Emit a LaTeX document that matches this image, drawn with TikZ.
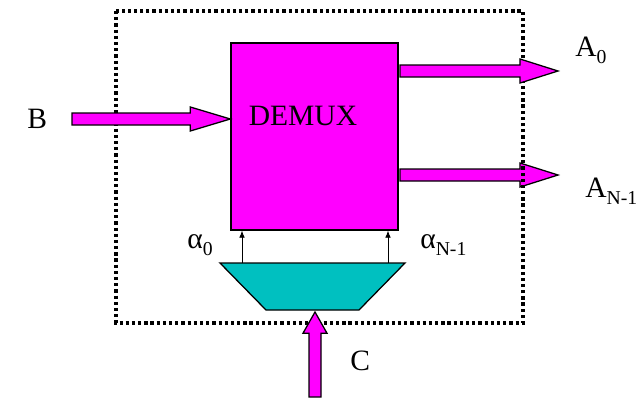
\documentclass[tikz,border=0pt]{standalone}
\usepackage{fontspec}
\setmainfont{Liberation Serif}
\usepackage{tikz}
\usetikzlibrary{arrows.meta, calc, positioning}

\definecolor{demuxpink}{RGB}{255,0,255}
\definecolor{selteal}{RGB}{0,192,192}

% lowered subscript
\newcommand{\lowsub}[1]{\raisebox{-5pt}{\fontsize{14}{16}\selectfont #1}}

% fat block arrow from #1 to #2, head length #3
\newcommand{\fatarrow}[3]{%
  \coordinate (fh) at ($(#2)!#3!(#1)$);
  \filldraw[fat] ($(#1)!.15cm!90:(#2)$) -- ($(fh)!.15cm!90:(#2)$) -- ($(fh)!.3cm!90:(#2)$)
    -- (#2) -- ($(fh)!.3cm!-90:(#2)$) -- ($(fh)!.15cm!-90:(#2)$) -- ($(#1)!.15cm!-90:(#2)$) -- cycle;
}

\begin{document}
\begin{tikzpicture}[x=0.025cm, y=-0.025cm,
  every node/.style={font=\fontsize{21}{25}\selectfont, inner sep=0pt},
  fat/.style={fill=demuxpink, draw=black, line width=0.9pt, line join=miter},
  demuxbox/.style={rectangle, fill=demuxpink, draw=black, line width=0.9pt,
    minimum width=4.175cm, minimum height=4.675cm},
  selbox/.style={fill=selteal, draw=black, line width=0.9pt},
  sig/.style={-{Latex[length=5pt, width=4pt]}, line width=0.6pt},
  dotframe/.style={line width=2.3pt, dash pattern=on 2.3pt off 2.1pt}]
  \useasboundingbox (0,0) rectangle (640,397);

  % outputs
  \coordinate (an1s) at (400,175);
  \coordinate (an1e) at (558,175);
  \fatarrow{an1s}{an1e}{0.95cm}
  % dotted outline
  \draw[dotframe] (116,11) rectangle (523,323);
  \coordinate (a0s) at (400,71);
  \coordinate (a0e) at (558,71);
  \fatarrow{a0s}{a0e}{0.95cm}

  % demultiplexer
  \node[demuxbox] (demux) at (314.5,136.5) {};
  \node (demuxlbl) at (303,116) {DEMUX};

  % input B
  \node[anchor=base west] (b) at (27,128) {B};
  \coordinate (bin) at (72,119);
  \fatarrow{bin}{bin -| demux.west}{1cm}

  % selector
  \draw[selbox] (220,263) -- (405,263) -- (359,310) -- (266,310) -- cycle;
  \coordinate (al0) at (242,263);
  \coordinate (aln) at (388,263);
  \draw[sig] (al0) -- (al0 |- demux.south);
  \draw[sig] (aln) -- (aln |- demux.south);
  \node[anchor=base west] (alpha0) at (187,248) {α\lowsub{0}};
  \node[anchor=base west] (alphan) at (420,248) {α\lowsub{N-1}};

  % control C
  \coordinate (cin) at (315,397);
  \coordinate (cout) at (315,312);
  \fatarrow{cin}{cout}{0.53cm}
  \node[anchor=base west] (c) at (350,370) {C};

  % output labels
  \node[anchor=base west] (a0) at (575,56) {A\lowsub{0}};
  \node[anchor=base west] (an1) at (585,197) {A\lowsub{N-1}};
\end{tikzpicture}
\end{document}
